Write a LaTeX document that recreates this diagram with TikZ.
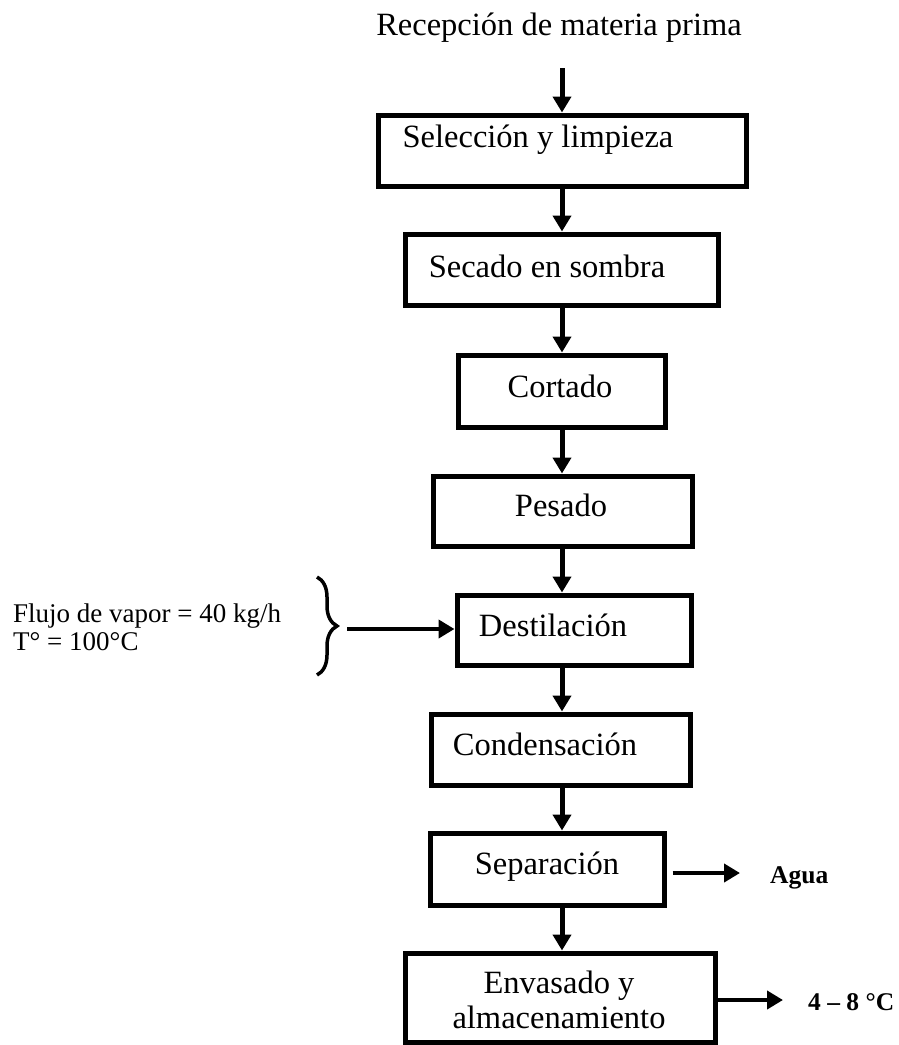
\documentclass[tikz,border=0pt]{standalone}
\usepackage{fontspec}
\setmainfont{Liberation Serif}
\usetikzlibrary{arrows.meta,decorations.pathreplacing}
\begin{document}
\begin{tikzpicture}[x=1pt,y=-1pt,
  box/.style={draw, line width=5pt, inner sep=0pt},
  lbl/.style={font=\fontsize{32.5}{35}\selectfont, inner sep=0pt, anchor=base},
  side/.style={font=\fontsize{27}{28}\selectfont, inner sep=0pt, align=left, anchor=north west},
  outtxt/.style={font=\bfseries\fontsize{25.5}{28}\selectfont, inner sep=0pt, anchor=base west},
  arr/.style={line width=5pt, -{Triangle[length=16pt,width=18pt]}},
  bracestyle/.style={line width=3.5pt, decorate, decoration={brace, amplitude=20pt}}]
\useasboundingbox (0,0) rectangle (899,1045);

% title
\node[lbl] (title) at (559,35) {Recepción de materia prima};
\coordinate (ax) at (562,0);
\coordinate (s0) at (562,68);

% boxes
\node[box, minimum width=368pt, minimum height=71pt] (b1) at (562,150.5) {};
\node[box, minimum width=313pt, minimum height=71pt] (b2) at (561.5,269.5) {};
\node[box, minimum width=207pt, minimum height=72pt] (b3) at (561.5,391) {};
\node[box, minimum width=259pt, minimum height=70pt] (b4) at (562.5,511) {};
\node[box, minimum width=234pt, minimum height=70pt] (b5) at (574,630) {};
\node[box, minimum width=259pt, minimum height=71pt] (b6) at (560.5,749.5) {};
\node[box, minimum width=234pt, minimum height=72pt] (b7) at (547,869) {};
\node[box, minimum width=310pt, minimum height=89pt] (b8) at (560,997.5) {};

% box texts
\node[lbl] (t1) at (538,147) {Selección y limpieza};
\node[lbl] (t2) at (547,277) {Secado en sombra};
\node[lbl] (t3) at (560,397) {Cortado};
\node[lbl] (t4) at (561,516) {Pesado};
\node[lbl] (t5) at (553,636) {Destilación};
\node[lbl] (t6) at (545,755) {Condensación};
\node[lbl] (t7) at (547,874) {Separación};
\node[lbl, anchor=north, align=center] (t8) at (559,971) {Envasado y\\almacenamiento};

% vertical flow
\draw[arr] (s0) -- (b1.north -| ax);
\draw[arr] (b1.south -| ax) -- (b2.north -| ax);
\draw[arr] (b2.south -| ax) -- (b3.north -| ax);
\draw[arr] (b3.south -| ax) -- (b4.north -| ax);
\draw[arr] (b4.south -| ax) -- (b5.north -| ax);
\draw[arr] (b5.south -| ax) -- (b6.north -| ax);
\draw[arr] (b6.south -| ax) -- (b7.north -| ax);
\draw[arr] (b7.south -| ax) -- (b8.north -| ax);

% steam input
\node[side] (vap) at (13,603.5) {Flujo de vapor = 40 kg/h\\T° = 100°C};
\coordinate (br1) at (317,577);
\coordinate (br2) at (317,675);
\draw[bracestyle] (br1) -- (br2);
\coordinate (bt) at (347,629);
\draw[arr, line width=4.5pt] (bt) -- (b5.west |- bt);

% outputs
\coordinate (o1) at (740,873);
\draw[arr, line width=4.5pt] ([xshift=6pt]b7.east |- o1) -- (o1);
\node[outtxt] (agua) at (770,883) {Agua};
\coordinate (o2) at (783,1000);
\draw[arr, line width=4.5pt] (b8.east |- o2) -- (o2);
\node[outtxt] (temp) at (808,1010) {4 – 8 °C};
\end{tikzpicture}
\end{document}
